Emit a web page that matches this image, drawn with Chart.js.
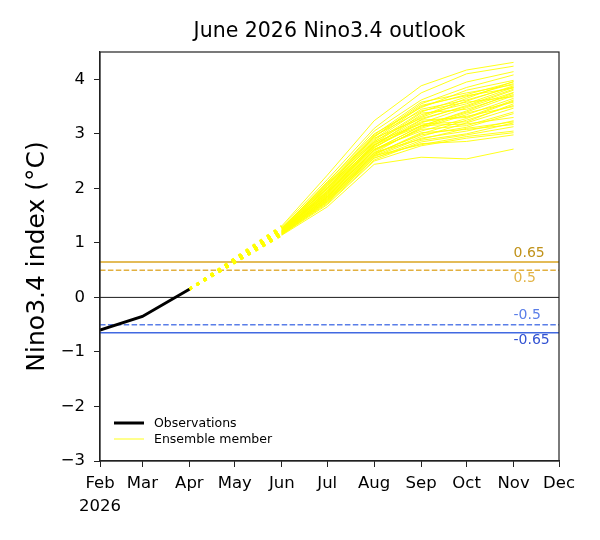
<!DOCTYPE html>
<html>
<head>
<meta charset="utf-8">
<script src="https://cdn.jsdelivr.net/npm/chart.js@4.4.1/dist/chart.umd.min.js"></script>
<style>
  body { margin: 0; background: #fff; }
  canvas { display: block; }
</style>
</head>
<body>
<canvas id="chart" width="600" height="540" style="width:600px;height:540px"></canvas>
<script>
// x positions are day-of-year (Jan 1 = 0), ticks at the first of each month
const monthNames = ['Feb', 'Mar', 'Apr', 'May', 'Jun', 'Jul', 'Aug', 'Sep', 'Oct', 'Nov', 'Dec'];
const monthStartDay = [31, 59, 90, 120, 151, 181, 212, 243, 273, 304, 334];
const yTicks = [-3, -2, -1, 0, 1, 2, 3, 4];

const obsDays = [31, 59, 90];
const obsValues = [-0.6, -0.35, 0.15];

const forecastDays = [151, 181, 212, 243, 273, 304];
// one row per ensemble member: Jun, Jul, Aug, Sep, Oct, Nov
const members = [
  [1.31, 2.24, 3.24, 3.88, 4.17, 4.31],
  [1.29, 2.16, 3.10, 3.75, 4.10, 4.24],
  [1.27, 2.10, 3.05, 3.62, 3.95, 4.14],
  [1.25, 2.05, 2.95, 3.55, 3.85, 4.08],
  [1.26, 2.12, 3.00, 3.48, 3.80, 3.98],
  [1.24, 2.00, 2.90, 3.50, 3.72, 3.95],
  [1.22, 2.02, 2.85, 3.40, 3.68, 3.92],
  [1.25, 2.08, 2.98, 3.58, 3.75, 3.90],
  [1.21, 1.98, 2.80, 3.30, 3.60, 3.88],
  [1.23, 1.95, 2.88, 3.45, 3.62, 3.86],
  [1.20, 1.92, 2.78, 3.35, 3.55, 3.85],
  [1.24, 2.04, 2.92, 3.28, 3.50, 3.80],
  [1.22, 1.90, 2.75, 3.20, 3.48, 3.76],
  [1.19, 1.96, 2.82, 3.38, 3.45, 3.72],
  [1.21, 1.88, 2.70, 3.15, 3.40, 3.70],
  [1.26, 2.06, 2.96, 3.42, 3.58, 3.68],
  [1.18, 1.85, 2.68, 3.10, 3.35, 3.65],
  [1.23, 1.94, 2.74, 3.25, 3.30, 3.62],
  [1.20, 1.86, 2.72, 3.05, 3.28, 3.60],
  [1.17, 1.82, 2.65, 3.12, 3.38, 3.58],
  [1.22, 1.91, 2.84, 3.18, 3.22, 3.55],
  [1.19, 1.80, 2.62, 3.00, 3.25, 3.52],
  [1.21, 1.87, 2.76, 3.22, 3.32, 3.50],
  [1.16, 1.78, 2.60, 2.95, 3.20, 3.47],
  [1.20, 1.84, 2.70, 3.08, 3.15, 3.40],
  [1.18, 1.79, 2.64, 2.98, 3.12, 3.37],
  [1.22, 1.93, 2.80, 3.15, 3.18, 3.30],
  [1.17, 1.76, 2.58, 2.92, 3.05, 3.24],
  [1.19, 1.83, 2.66, 2.90, 3.10, 3.22],
  [1.15, 1.74, 2.55, 2.88, 3.00, 3.20],
  [1.18, 1.81, 2.62, 3.02, 3.08, 3.17],
  [1.16, 1.72, 2.52, 2.85, 2.98, 3.13],
  [1.20, 1.77, 2.60, 2.80, 2.95, 3.05],
  [1.15, 1.70, 2.50, 2.78, 2.92, 3.02],
  [1.17, 1.75, 2.56, 2.82, 2.86, 2.98],
  [1.14, 1.66, 2.44, 2.57, 2.54, 2.72],
  [1.23, 1.99, 2.86, 3.32, 3.65, 3.96],
  [1.21, 1.89, 2.79, 3.26, 3.52, 3.82],
  [1.19, 1.84, 2.71, 3.14, 3.42, 3.75],
  [1.24, 2.01, 2.94, 3.52, 3.70, 3.84]
];

const thresholdValues = [0.65, 0.5, -0.5, -0.65];
const thresholdLabels = ['0.65', '0.5', '-0.5', '-0.65'];
const thresholdColors = ['#daa520', '#e2b040', '#5a7ee8', '#4169e1'];
const thresholdTextColors = ['#c0921a', '#e2b448', '#5a7ee8', '#3252d2'];
const thresholdDashed = [false, true, true, false];

const chartTitle = 'June 2026 Nino3.4 outlook';
const FONT = 'DejaVu Sans';
const xMin = monthStartDay[0], xMax = monthStartDay[monthStartDay.length - 1];

const datasets = [];

datasets.push({
  label: 'Observations',
  data: obsDays.map((d, i) => ({ x: d, y: obsValues[i] })),
  borderColor: '#000', borderWidth: 3, order: 0
});

members.forEach((m, k) => {
  datasets.push({
    label: 'member ' + (k + 1),
    data: forecastDays.map((d, i) => ({ x: d, y: m[i] })),
    borderColor: '#ffff00', borderWidth: 0.9, order: 2
  });
  // dotted link from the last observation to the first forecast month
  datasets.push({
    label: 'link ' + (k + 1),
    data: [
      { x: obsDays[obsDays.length - 1], y: obsValues[obsValues.length - 1] },
      { x: forecastDays[0], y: m[0] }
    ],
    borderColor: '#ffff00', borderWidth: 2.5, borderDash: [3, 5.5], order: 3
  });
});

thresholdValues.forEach((v, i) => {
  datasets.push({
    label: 'thr ' + thresholdLabels[i],
    data: [{ x: xMin, y: v }, { x: xMax, y: v }],
    borderColor: thresholdColors[i], borderWidth: 1.5,
    borderDash: thresholdDashed[i] ? [5.5, 2.4] : [], order: 4
  });
});
datasets.push({
  label: 'zero',
  data: [{ x: xMin, y: 0 }, { x: xMax, y: 0 }],
  borderColor: '#000', borderWidth: 0.9, order: 4
});

const framePlugin = {
  id: 'frame',
  afterDraw(chart) {
    const { ctx, chartArea: a, scales } = chart;
    ctx.save();
    ctx.strokeStyle = '#222';
    ctx.lineWidth = 1.2;
    ctx.strokeRect(a.left, a.top, a.right - a.left, a.bottom - a.top);

    // title centred over the axes
    ctx.fillStyle = '#000';
    ctx.font = '20.5px "' + FONT + '"';
    ctx.textAlign = 'center';
    ctx.textBaseline = 'middle';
    ctx.fillText(chartTitle, (a.left + a.right) / 2, 32);

    // threshold labels
    ctx.font = '14px "' + FONT + '"';
    ctx.textAlign = 'left';
    const lx = scales.x.getPixelForValue(forecastDays[forecastDays.length - 1]);
    thresholdValues.forEach((v, i) => {
      const py = scales.y.getPixelForValue(v);
      ctx.fillStyle = thresholdTextColors[i];
      const above = (i === 0 || i === 2);
      ctx.textBaseline = above ? 'bottom' : 'top';
      ctx.fillText(thresholdLabels[i], lx, above ? py - 2 : py + 1);
    });

    // legend, lower left inside the axes
    const x0 = a.left + 14, y0 = a.bottom - 38;
    ctx.lineWidth = 3; ctx.strokeStyle = '#000';
    ctx.beginPath(); ctx.moveTo(x0, y0); ctx.lineTo(x0 + 30, y0); ctx.stroke();
    ctx.lineWidth = 0.9; ctx.strokeStyle = '#ffff00';
    ctx.beginPath(); ctx.moveTo(x0, y0 + 16); ctx.lineTo(x0 + 30, y0 + 16); ctx.stroke();
    ctx.fillStyle = '#000';
    ctx.font = '12.5px "' + FONT + '"';
    ctx.textBaseline = 'middle';
    ctx.fillText('Observations', x0 + 40, y0 + 1);
    ctx.fillText('Ensemble member', x0 + 40, y0 + 17);
    ctx.restore();
  }
};

new Chart(document.getElementById('chart'), {
  type: 'line',
  data: { datasets },
  options: {
    responsive: false,
    animation: false,
    devicePixelRatio: 1,
    elements: { point: { radius: 0 }, line: { tension: 0 } },
    layout: { padding: { top: 52, right: 41 } },
    plugins: {
      legend: { display: false },
      tooltip: { enabled: false },
      title: { display: false }
    },
    scales: {
      x: {
        type: 'linear', min: xMin, max: xMax,
        afterBuildTicks: s => { s.ticks = monthStartDay.map(v => ({ value: v })); },
        afterFit: s => { s.height = 79; },
        ticks: {
          autoSkip: false, maxRotation: 0, color: '#000', padding: 5,
          font: { family: FONT, size: 16.5, lineHeight: 1.4 },
          callback: (v, i) => i === 0 ? [monthNames[0], '2026'] : monthNames[i]
        },
        grid: { drawOnChartArea: false, drawTicks: true, tickLength: 6, color: '#222' },
        border: { display: true, color: '#222', width: 1.2 }
      },
      y: {
        type: 'linear', min: -3, max: 4.5,
        afterBuildTicks: s => { s.ticks = yTicks.map(v => ({ value: v })); },
        afterFit: s => { s.width = 100; },
        ticks: {
          color: '#000', padding: 9,
          font: { family: FONT, size: 16.5 },
          callback: v => String(v).replace('-', '\u2212')
        },
        grid: { drawOnChartArea: false, drawTicks: true, tickLength: 6, color: '#222' },
        border: { display: true, color: '#222', width: 1.2 },
        title: {
          display: true, text: 'Nino3.4 index (°C)', color: '#000',
          font: { family: FONT, size: 25 }, padding: { top: 22, bottom: 0 }
        }
      }
    }
  },
  plugins: [framePlugin]
});
</script>
</body>
</html>
